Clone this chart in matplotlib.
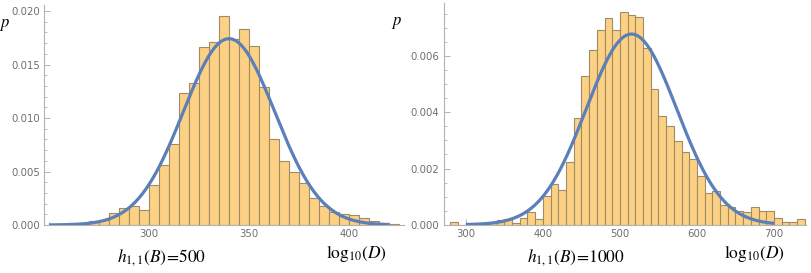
import numpy as np
import matplotlib
matplotlib.use('Agg')
import matplotlib.pyplot as plt
from matplotlib.ticker import MultipleLocator, FixedLocator, FormatStrFormatter

plt.rcParams['mathtext.fontset'] = 'stix'
plt.rcParams['font.family'] = ['DejaVu Sans']

# left panel: h11 = 500, bins of width 5
left_edges = np.arange(260, 425, 5)
left_p = [0.0002, 0.0002, 0.0004, 0.0005, 0.0011, 0.0016, 0.0018, 0.0014,
          0.0037, 0.0056, 0.0076, 0.0123, 0.0133, 0.0166, 0.0171, 0.0195,
          0.0174, 0.0183, 0.0167, 0.0129, 0.0080, 0.0060, 0.0050, 0.0039,
          0.0025, 0.0018, 0.00125, 0.0010, 0.0009, 0.0007, 0.0004, 0.0002,
          0.0001]
left_mu, left_sigma = 340.0, 22.9
left_curve_range = (250, 420)
left_xticks = [300, 350, 400]

# right panel: h11 = 1000, bins of width 10
right_edges = np.arange(280, 740, 10)
right_p = [0.0001, 0.0, 0.0, 0.0, 0.00005, 0.0001, 0.00017, 0.0002, 0.00007,
           0.00023, 0.00044, 0.0002, 0.00102, 0.00144, 0.00122, 0.00222,
           0.00379, 0.00528, 0.00622, 0.00692, 0.00737, 0.00692, 0.00756,
           0.00746, 0.00738, 0.00628, 0.00482, 0.00388, 0.00352, 0.00298,
           0.00259, 0.00233, 0.00173, 0.00114, 0.00120, 0.00069, 0.00064,
           0.00048, 0.00046, 0.00063, 0.00048, 0.00048, 0.00024, 0.0001,
           0.0001, 0.00019]
right_mu, right_sigma = 515.0, 58.8
right_curve_range = (300, 700)
right_xticks = [300, 400, 500, 600, 700]

bar_color = '#FDD183'
edge_color = '#9E8B68'
line_color = '#5A7FB9'
axis_color = '#B3B3B3'
tick_text = '#6E6E6E'


def normal_pdf(x, mu, sigma):
    return np.exp(-0.5 * ((x - mu) / sigma) ** 2) / (sigma * np.sqrt(2 * np.pi))


def draw_panel(ax, edges, p, width, mu, sigma, crange, xlim, ylim,
               xticks, xminor, ymajor, yminor):
    ax.bar(edges, p, width=width, align='edge', color=bar_color,
           edgecolor=edge_color, linewidth=0.8, zorder=2)
    xs = np.linspace(crange[0], crange[1], 400)
    ax.plot(xs, normal_pdf(xs, mu, sigma), color=line_color, lw=2.3,
            zorder=3, solid_capstyle='butt')
    ax.set_xlim(*xlim)
    ax.set_ylim(*ylim)
    for s in ['top', 'right']:
        ax.spines[s].set_visible(False)
    for s in ['left', 'bottom']:
        ax.spines[s].set_color(axis_color)
        ax.spines[s].set_linewidth(0.8)
    ax.xaxis.set_major_locator(FixedLocator(xticks))
    ax.xaxis.set_minor_locator(MultipleLocator(xminor))
    ax.yaxis.set_major_locator(MultipleLocator(ymajor))
    ax.yaxis.set_minor_locator(MultipleLocator(yminor))
    ax.yaxis.set_major_formatter(FormatStrFormatter('%.3f'))
    ax.tick_params(which='major', direction='in', length=4, width=0.7,
                   color=axis_color, labelcolor=tick_text, labelsize=7.3, pad=3)
    ax.tick_params(which='minor', direction='in', length=2.3, width=0.6,
                   color=axis_color)
    ax.set_facecolor('none')


fig = plt.figure(figsize=(8.12, 2.73), dpi=100)
W, H = 812, 273

ax1 = fig.add_axes([44 / W, (273 - 225) / H, (404 - 44) / W, (225 - 5) / H])
draw_panel(ax1, left_edges, left_p, 5, left_mu, left_sigma, left_curve_range,
           (247.5, 427.5), (0, 0.02057), left_xticks, 10, 0.005, 0.001)

ax2 = fig.add_axes([443.7 / W, (273 - 224.7) / H, (806 - 443.7) / W, (224.7 - 3) / H])
draw_panel(ax2, right_edges, right_p, 10, right_mu, right_sigma, right_curve_range,
           (271.3, 741.5), (0, 0.00789), right_xticks, 20, 0.002, 0.0005)

# axis labels
fig.text(5 / W, 1 - 24 / H, r'$p$', fontsize=12, ha='center', va='center')
fig.text(397 / W, 1 - 22 / H, r'$p$', fontsize=12, ha='center', va='center')
fig.text(161 / W, 1 - 258 / H, r'$h_{1,1}(B)\!=\!500$', fontsize=12.5,
         ha='center', va='center')
fig.text(356 / W, 1 - 253 / H, r'$\mathrm{log}_{10}(D)$', fontsize=12.5,
         ha='center', va='center')
fig.text(576 / W, 1 - 258 / H, r'$h_{1,1}(B)\!=\!1000$', fontsize=12.5,
         ha='center', va='center')
fig.text(754 / W, 1 - 253 / H, r'$\mathrm{log}_{10}(D)$', fontsize=12.5,
         ha='center', va='center')

fig.savefig('out.png', dpi=100)
